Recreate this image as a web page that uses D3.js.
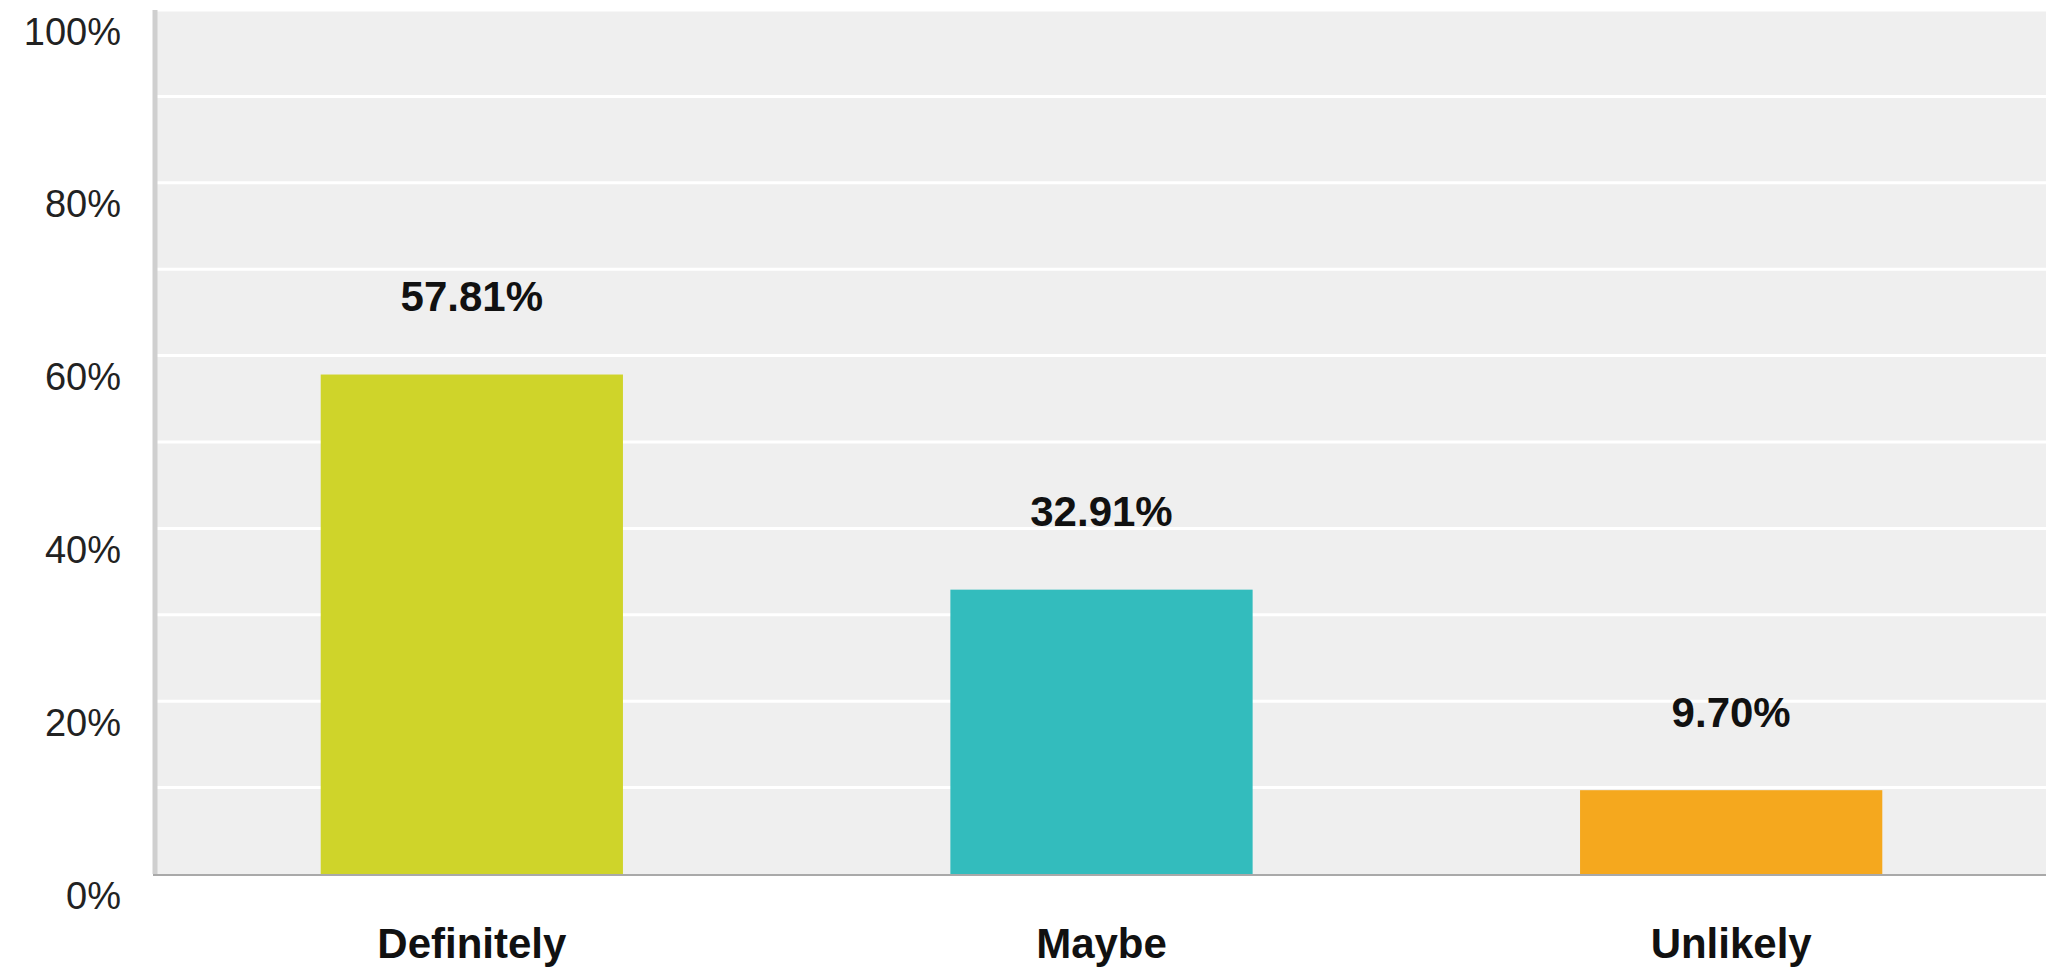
<!DOCTYPE html>
<html><head><meta charset="utf-8">
<script src="https://cdn.jsdelivr.net/npm/d3@7"></script>
<style>html,body{margin:0;padding:0;background:#fff;}svg{display:block;}</style>
</head><body>
<svg id="chart" width="2046" height="973"></svg>
<script>
const categories = ["Definitely", "Maybe", "Unlikely"];
const values = [57.81, 32.91, 9.70];
const valueLabels = ["57.81%", "32.91%", "9.70%"];
const barColors = ["#cfd42a", "#33bcbd", "#f5a81e"];
const gridTicks = [0,10,20,30,40,50,60,70,80,90,100];
const labelTicks = [0,20,40,60,80,100];

const svg = d3.select("#chart");
const pLeft = 157, pRight = 2046, pTop = 10, pBottom = 874;

const x = d3.scaleBand().domain(categories).range([pLeft, pRight]).paddingInner(0.52).paddingOuter(0.26);
const y = d3.scaleLinear().domain([0, 100]).range([pBottom, pTop]);

svg.append("rect").attr("x", pLeft).attr("y", pTop).attr("width", pRight-pLeft).attr("height", pBottom-pTop).attr("fill", "#efefef");

svg.append("g").selectAll("line").data(gridTicks.filter(d => d > 0)).join("line")
  .attr("x1", pLeft).attr("x2", pRight)
  .attr("y1", d => y(d)).attr("y2", d => y(d))
  .attr("stroke", "#ffffff").attr("stroke-width", 3);

const yAxis = d3.axisLeft(y).tickValues(labelTicks).tickFormat(d => d + "%").tickSize(0).tickPadding(0);
const ya = svg.append("g").attr("transform", `translate(${pLeft-36},0)`).call(yAxis);
ya.select(".domain").remove();
ya.selectAll("text").attr("font-family", "Liberation Sans, Arial, sans-serif").attr("font-size", 38)
  .attr("fill", "#222").attr("dy", "0.9em");

svg.append("g").selectAll("rect").data(values).join("rect")
  .attr("x", (d, i) => x(categories[i]))
  .attr("width", x.bandwidth())
  .attr("y", d => y(d))
  .attr("height", d => y(0) - y(d))
  .attr("fill", (d, i) => barColors[i]);

svg.append("line").attr("x1", pLeft-2).attr("x2", pLeft-2).attr("y1", pTop).attr("y2", pBottom)
  .attr("stroke", "#cfcfcf").attr("stroke-width", 5);
svg.append("line").attr("x1", pLeft-4).attr("x2", pRight).attr("y1", pBottom+1).attr("y2", pBottom+1)
  .attr("stroke", "#a9a9a9").attr("stroke-width", 2);

svg.append("g").selectAll("text").data(values).join("text")
  .attr("x", (d, i) => x(categories[i]) + x.bandwidth()/2)
  .attr("y", d => y(d) - 78)
  .attr("dy", "0.35em")
  .attr("text-anchor", "middle")
  .attr("font-family", "Liberation Sans, Arial, sans-serif").attr("font-weight", "bold").attr("font-size", 42)
  .attr("fill", "#111")
  .text((d, i) => valueLabels[i]);

const xAxis = d3.axisBottom(x).tickSize(0).tickPadding(0);
const xa = svg.append("g").attr("transform", `translate(0,${pBottom + 54})`).call(xAxis);
xa.select(".domain").remove();
xa.selectAll("text").attr("font-family", "Liberation Sans, Arial, sans-serif").attr("font-weight", "bold")
  .attr("font-size", 42).attr("fill", "#111");
</script>
</body></html>
